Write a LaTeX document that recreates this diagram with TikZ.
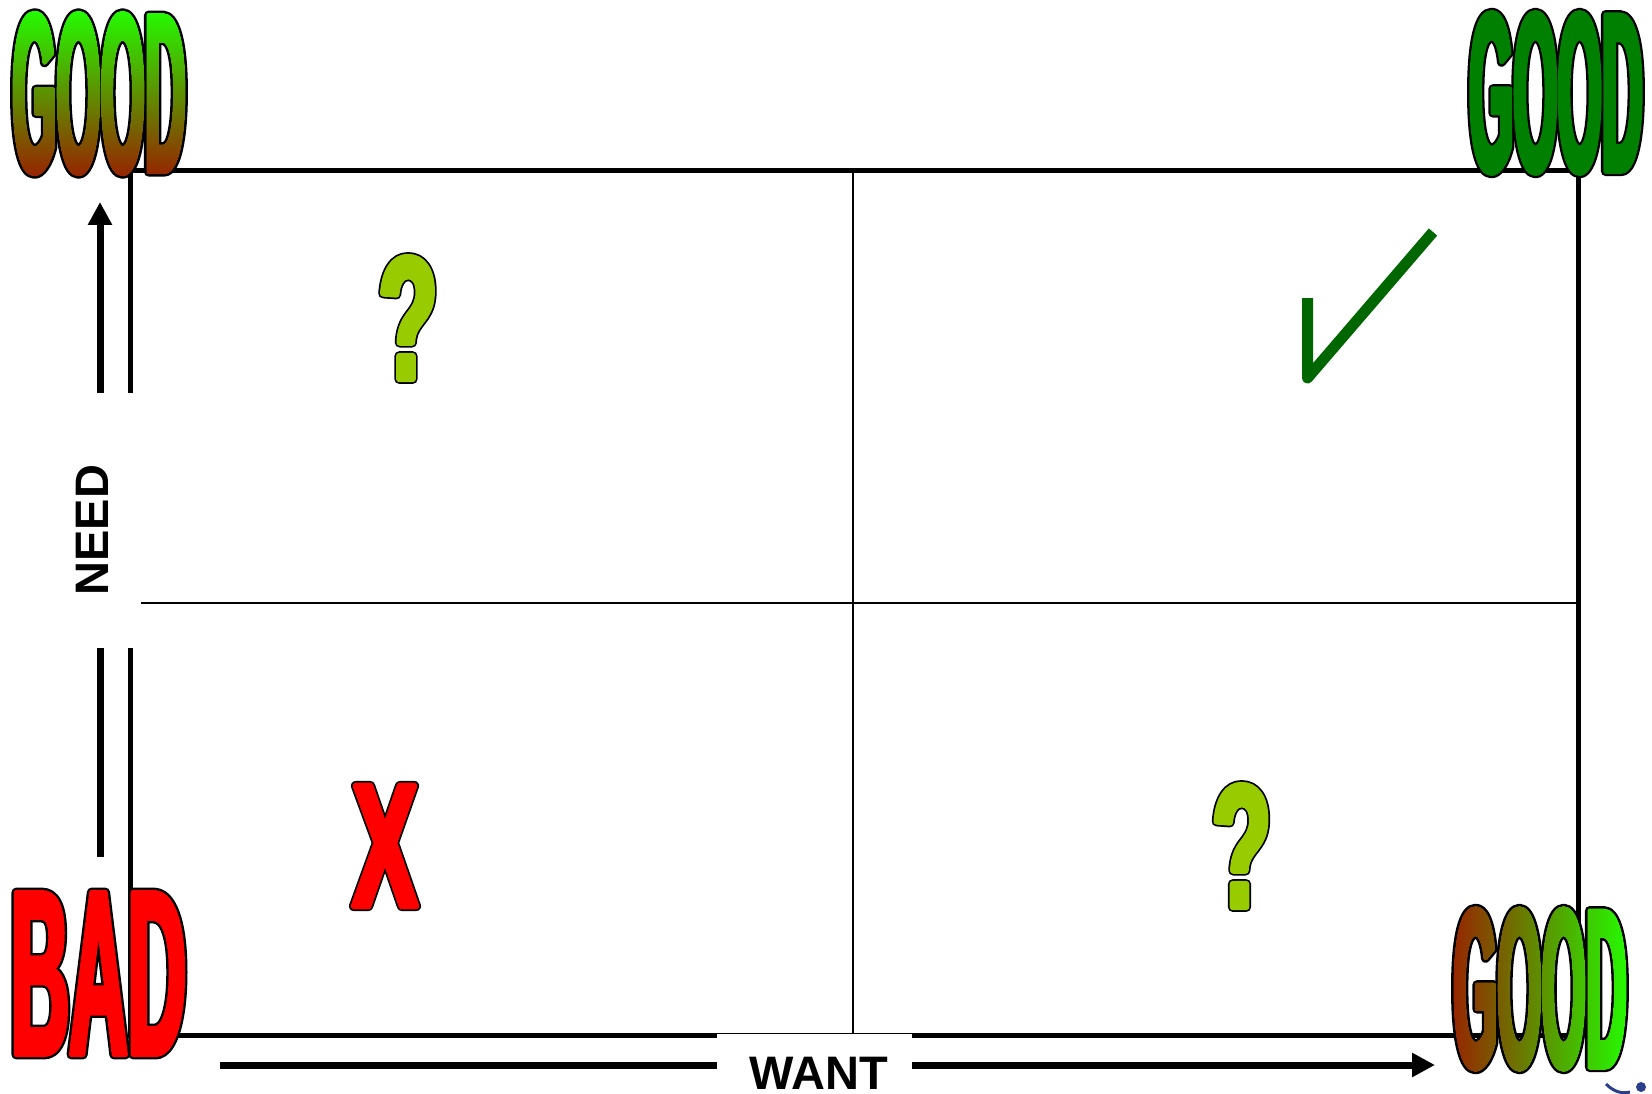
\documentclass[tikz,border=0pt]{standalone}
\usepackage{fontspec}
\setmainfont{Liberation Sans}
\newfontfamily\goodline[FakeStretch=0.249,FakeBold=4]{Liberation Sans Bold}
\newfontfamily\goodfill[FakeStretch=0.249,FakeBold=2]{Liberation Sans Bold}
\newfontfamily\badline[FakeStretch=0.343,FakeBold=4]{Liberation Sans Bold}
\newfontfamily\badfill[FakeStretch=0.343,FakeBold=2]{Liberation Sans Bold}
\newfontfamily\markline[FakeStretch=0.55,FakeBold=5.5]{Liberation Sans Bold}
\newfontfamily\markfill[FakeStretch=0.55,FakeBold=3.5]{Liberation Sans Bold}
\usetikzlibrary{arrows.meta,fadings}
\definecolor{greentop}{HTML}{22FF00}
\definecolor{rustbot}{HTML}{992000}
\definecolor{goodgreen}{HTML}{008000}
\definecolor{badred}{HTML}{FF0000}
\definecolor{lime}{HTML}{99CC00}
\definecolor{tickgreen}{HTML}{006600}
\definecolor{logoblue}{HTML}{2B3F8C}
\tikzset{
  frame/.style={line width=5pt,draw=black},
  divider/.style={line width=2.2pt,draw=black},
  axis/.style={-{Triangle[length=23pt,width=23pt]},line width=7pt,draw=black},
  axislabel/.style={fill=white,font=\fontsize{47}{47}\selectfont\bfseries},
  goodword/.style={inner sep=4pt,line join=round,font=\goodline\fontsize{228}{228}\selectfont},
  goodcolour/.style={inner sep=4pt,line join=round,font=\goodfill\fontsize{228}{228}\selectfont},
  badword/.style={inner sep=4pt,line join=round,font=\badline\fontsize{236}{236}\selectfont},
  badcolour/.style={inner sep=4pt,line join=round,text=badred,font=\badfill\fontsize{236}{236}\selectfont},
  markword/.style={inner sep=4pt,line join=round,font=\markline\fontsize{175}{175}\selectfont},
  markcolour/.style={inner sep=4pt,line join=round,font=\markfill\fontsize{175}{175}\selectfont},
  tick/.style={line width=11pt,draw=tickgreen,line join=round}
}
\begin{tikzfadingfrompicture}[name=goodfade]
  \node[goodcolour,text=transparent!0] (fadegood) {GOOD};
\end{tikzfadingfrompicture}

\begin{document}
\begin{tikzpicture}[x=1pt,y=-1pt]
\useasboundingbox (0,0) rectangle (1652,1094);
% quadrants
\draw[divider] (853,171) -- (853,1035);
\draw[divider] (141,603) -- (1578,603);
\draw[frame] (130,171) rectangle (1578,1035);
% axes
\coordinate (needfoot) at (100,857);
\coordinate (needtip) at (100,202);
\coordinate (wantfoot) at (220,1065);
\coordinate (wanttip) at (1435,1065);
\draw[axis] (needfoot) -- (needtip);
\draw[axis] (wantfoot) -- (wanttip);
\node[axislabel,rotate=90,minimum width=255pt,minimum height=92pt] (need) at (92,520.5) {\hspace*{-19pt}NEED};
\node[axislabel,anchor=north,minimum width=195pt,inner ysep=23pt] (want) at (814,1034) {\hspace*{10pt}WANT};
% corner words
\node[goodword] (goodtl) at (99,93.5) {GOOD};
\begin{scope}[transform canvas={shift={(goodtl.center)}}]
  \shade[top color=greentop,bottom color=rustbot,path fading=goodfade,fit fading=false]
    (-92,-86) rectangle (92,86);
\end{scope}
\node[goodword] (goodtr) at (1556,93) {GOOD};
\node[goodcolour,text=goodgreen] (goodtrfill) at (goodtr) {GOOD};
\node[goodword] (goodbr) at (1540,989) {GOOD};
\begin{scope}[transform canvas={shift={(goodbr.center)}}]
  \shade[left color=rustbot,right color=greentop,path fading=goodfade,fit fading=false]
    (-92,-86) rectangle (92,86);
\end{scope}
\node[badword] (bad) at (98.5,973.5) {BAD};
\node[badcolour] (badfill) at (bad) {BAD};
% quadrant marks
\node[markword] (asktl) at (408,318) {?};
\node[markcolour,text=lime] (asktlfill) at (asktl) {?};
\node[markword] (askbr) at (1241.5,846) {?};
\node[markcolour,text=lime] (askbrfill) at (askbr) {?};
\node[markword] (cross) at (385,846) {X};
\node[markcolour,text=badred] (crossfill) at (cross) {X};
\draw[tick] (1307.5,298) -- (1307.5,378) -- (1433,232);
% logo corner
\draw[logoblue,line width=3pt] (1606,1084) .. controls (1614,1092) and (1622,1094) .. (1630,1092);
\fill[logoblue] (1641,1087) circle (5pt);
\end{tikzpicture}
\end{document}
